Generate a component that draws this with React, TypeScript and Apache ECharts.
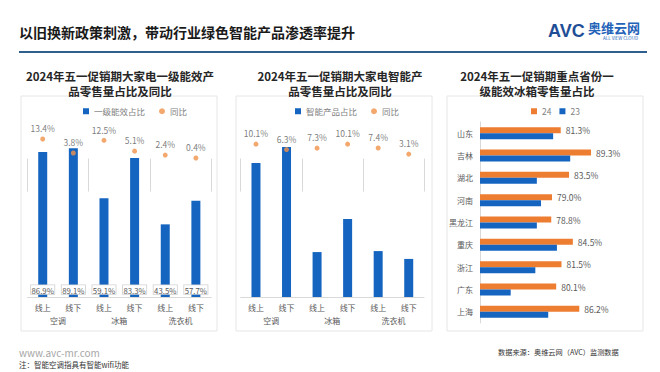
import React, { useEffect, useRef } from "react";
import * as echarts from "echarts";

const channels = ["线上", "线下", "线上", "线下", "线上", "线下"];
const groups = ["空调", "冰箱", "洗衣机"];
const level1Share = [86.9, 89.1, 59.1, 83.3, 43.5, 57.7];
const level1Yoy = [13.4, 3.8, 12.5, 5.1, 2.4, 0.4];
const smartShare = [80.2, 89.8, 26.9, 46.7, 27.5, 22.8];
const smartYoy = [10.1, 6.3, 7.3, 10.1, 7.4, 3.1];
const provinces = ["山东", "吉林", "湖北", "河南", "黑龙江", "重庆", "浙江", "广东", "上海"];
const share24 = [81.3, 89.3, 83.5, 79.0, 78.8, 84.5, 81.5, 80.1, 86.2];
const share23 = [79.3, 83.8, 75.0, 76.1, 75.0, 80.3, 74.6, 68.1, 78.0];

const FONT = '"Noto Sans CJK SC", "Noto Sans", sans-serif';
const BLUE = "#1565c0";
const ORANGE = "#ed7d31";
const DOT = "#f0924a";
const GRAY_TXT = "#595959";
const LINE = "#d9d9d9";

function txt(x: number, y: number, text: string, size: number, color: string, opts: any = {}) {
  return {
    type: "text",
    x,
    y,
    silent: true,
    style: {
      text,
      fill: color,
      font: `${opts.weight || "normal"} ${size}px ${opts.family || FONT}`,
      textAlign: opts.align || "left",
      textVerticalAlign: "middle",
    },
  };
}

export default function App() {
  const ref = useRef<HTMLDivElement>(null);
  useEffect(() => {
    if (!ref.current) return;
    const chart = echarts.init(ref.current, undefined, { renderer: "svg" });
    const pctLabel = (p: any) => Number(p.value).toFixed(1) + "%";

    const catAxisLevel1 = (gridIndex: number) => ({
      type: "category",
      gridIndex,
      data: channels,
      axisLine: { show: true, lineStyle: { color: LINE } },
      axisTick: { show: false },
      axisLabel: { fontSize: 8, color: GRAY_TXT, margin: 6, fontFamily: FONT },
    });
    const catAxisLevel2 = (gridIndex: number) => ({
      type: "category",
      gridIndex,
      position: "bottom",
      data: groups,
      axisLine: { show: false },
      axisTick: { show: true, length: 33, lineStyle: { color: LINE } },
      axisLabel: { fontSize: 8, color: GRAY_TXT, margin: 19, fontFamily: FONT },
    });

    const legendBase = {
      top: 102,
      itemWidth: 6,
      itemHeight: 6,
      textStyle: { fontSize: 8.5, color: "#7f7f7f" },
    };

    const option: any = {
      animation: false,
      textStyle: { fontFamily: FONT },
      grid: [
        { left: 27.4, width: 183.8, top: 130, height: 167 },
        { left: 240.7, width: 183.3, top: 130, height: 167 },
        { left: 480, width: 151.6, top: 122, height: 201 },
      ],
      legend: [
        {
          ...legendBase,
          left: 78,
          itemGap: 14,
          data: [
            { name: "一级能效占比", icon: "rect" },
            { name: "同比", icon: "circle" },
          ],
        },
        {
          ...legendBase,
          left: 290,
          itemGap: 14,
          data: [
            { name: "智能产品占比", icon: "rect" },
            { name: "同比 ", icon: "circle" },
          ],
        },
        {
          ...legendBase,
          left: 526,
          itemGap: 8,
          data: [
            { name: "24", icon: "rect" },
            { name: "23", icon: "rect" },
          ],
        },
      ],
      xAxis: [
        catAxisLevel1(0),
        catAxisLevel2(0),
        catAxisLevel1(1),
        catAxisLevel2(1),
        { type: "value", gridIndex: 2, min: 60, max: 100, show: false },
      ],
      yAxis: [
        { type: "value", gridIndex: 0, min: 0, max: 100, show: false },
        { type: "value", gridIndex: 0, min: -95, max: 19.6, show: false },
        { type: "value", gridIndex: 1, min: 0, max: 100, show: false },
        { type: "value", gridIndex: 1, min: -97, max: 20, show: false },
        {
          type: "category",
          gridIndex: 2,
          inverse: true,
          data: provinces,
          axisLine: { show: true, lineStyle: { color: LINE } },
          axisTick: { show: false },
          axisLabel: { fontSize: 8, color: GRAY_TXT, margin: 7 },
        },
      ],
      series: [
        {
          name: "一级能效占比",
          type: "bar",
          xAxisIndex: 0,
          yAxisIndex: 0,
          data: level1Share,
          barWidth: 9,
          itemStyle: { color: BLUE },
          label: {
            show: true,
            position: "insideBottom",
            distance: 3,
            formatter: pctLabel,
            fontSize: 7.8,
            color: GRAY_TXT,
            backgroundColor: "#ffffff",
            borderColor: "#cfcfcf",
            borderWidth: 0.8,
            padding: [1, 0.5, 0, 0.5],
          },
        },
        {
          name: "同比",
          type: "scatter",
          xAxisIndex: 0,
          yAxisIndex: 1,
          data: level1Yoy,
          symbolSize: 5,
          itemStyle: { color: DOT },
          label: { show: true, position: "top", distance: 4, formatter: pctLabel, fontSize: 8.5, color: GRAY_TXT },
        },
        {
          name: "智能产品占比",
          type: "bar",
          xAxisIndex: 2,
          yAxisIndex: 2,
          data: smartShare,
          barWidth: 9,
          itemStyle: { color: BLUE },
        },
        {
          name: "同比 ",
          type: "scatter",
          xAxisIndex: 2,
          yAxisIndex: 3,
          data: smartYoy,
          symbolSize: 5,
          itemStyle: { color: DOT },
          label: { show: true, position: "top", distance: 4, formatter: pctLabel, fontSize: 8.5, color: GRAY_TXT },
        },
        {
          name: "24",
          type: "bar",
          xAxisIndex: 4,
          yAxisIndex: 4,
          data: share24,
          barWidth: 6,
          barGap: "0%",
          itemStyle: { color: ORANGE },
          label: { show: true, position: "right", distance: 5, formatter: pctLabel, fontSize: 8.5, color: GRAY_TXT },
        },
        {
          name: "23",
          type: "bar",
          xAxisIndex: 4,
          yAxisIndex: 4,
          data: share23,
          barWidth: 6,
          barGap: "0%",
          itemStyle: { color: BLUE },
        },
      ],
      graphic: [
        { type: "rect", z: -10, silent: true, shape: { x: 21, y: 96, width: 196, height: 235 }, style: { fill: "transparent", stroke: "#e6e6e6", lineWidth: 1 } },
        { type: "rect", z: -10, silent: true, shape: { x: 236, y: 96, width: 196, height: 235 }, style: { fill: "transparent", stroke: "#e6e6e6", lineWidth: 1 } },
        { type: "rect", z: -10, silent: true, shape: { x: 447, y: 96, width: 196, height: 235 }, style: { fill: "transparent", stroke: "#e6e6e6", lineWidth: 1 } },
        { type: "line", silent: true, shape: { x1: 19, y1: 52, x2: 647, y2: 52 }, style: { stroke: "#2f5f8c", lineWidth: 2 } },
        txt(19, 32, "以旧换新政策刺激，带动行业绿色智能产品渗透率提升", 14, "#1a1a1a", { weight: "bold" }),
        txt(548, 31, "AVC", 18, "#1f4e96", { weight: "900", family: '"Liberation Sans", Arial, sans-serif' }),
        txt(588, 27, "奥维云网", 13, "#2563b8", { weight: "bold" }),
        txt(603, 38, "ALL VIEW CLOUD", 4.5, "#2563b8"),
        txt(120, 76, "2024年五一促销期大家电一级能效产", 11.5, "#262626", { weight: "bold", align: "center" }),
        txt(120, 91, "品零售量占比及同比", 11.5, "#262626", { weight: "bold", align: "center" }),
        txt(340, 76, "2024年五一促销期大家电智能产", 11.5, "#262626", { weight: "bold", align: "center" }),
        txt(340, 91, "品零售量占比及同比", 11.5, "#262626", { weight: "bold", align: "center" }),
        txt(537, 76, "2024年五一促销期重点省份一", 11.5, "#262626", { weight: "bold", align: "center" }),
        txt(537, 91, "级能效冰箱零售量占比", 11.5, "#262626", { weight: "bold", align: "center" }),
        txt(19, 352, "www.avc-mr.com", 10, "#a6a6a6"),
        txt(19, 364, "注：智能空调指具有智能wifi功能", 7.5, "#333333"),
        txt(498, 352, "数据来源：奥维云网（AVC）监测数据", 7.2, "#333333"),
      ],
    };
    chart.setOption(option);
    return () => chart.dispose();
  }, []);
  return (
    <div
      ref={ref}
      style={{ position: "absolute", left: 0, top: 0, width: 660, height: 372, background: "#ffffff" }}
    />
  );
}
